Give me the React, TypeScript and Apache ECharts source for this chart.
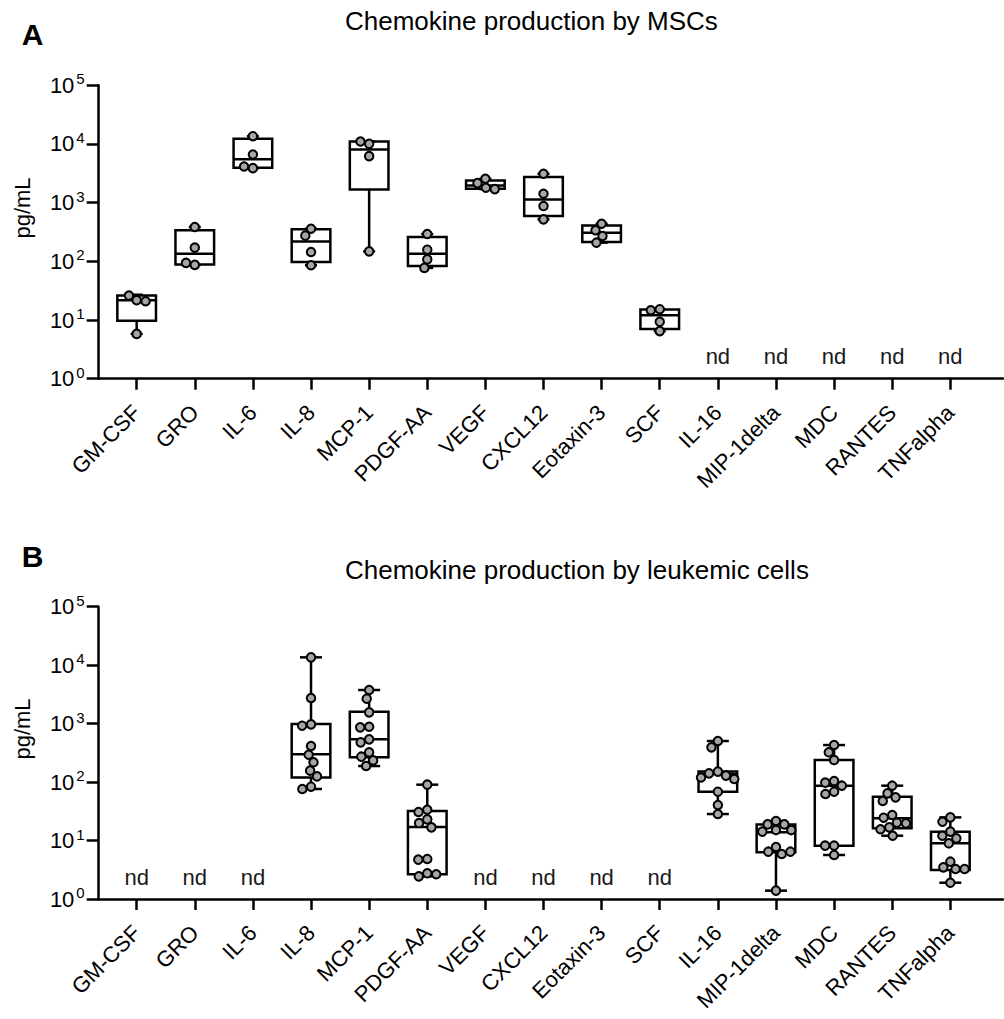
import React, { useEffect, useRef } from 'react';
import * as echarts from 'echarts';

const FONT = '"Liberation Sans", Arial, Helvetica, sans-serif';

const categories = ['GM-CSF', 'GRO', 'IL-6', 'IL-8', 'MCP-1', 'PDGF-AA', 'VEGF', 'CXCL12', 'Eotaxin-3', 'SCF', 'IL-16', 'MIP-1delta', 'MDC', 'RANTES', 'TNFalpha'];
const yMin = 1;
const yMax = 100000;

const titleA = 'Chemokine production by MSCs';
const titleB = 'Chemokine production by leukemic cells';
const yAxisName = 'pg/mL';
const ndText = 'nd';

// Box statistics [min, Q1, median, Q3, max]; null = not detected (nd)
const mscBoxes: (number[] | null)[] = [
  [5.8, 9.7, 21.8, 26.1, 27],
  [87, 88.5, 135, 338, 385],
  [3875, 3940, 5510, 12220, 13580],
  [85.8, 97.7, 217, 351, 360],
  [148, 1682, 8050, 11020, 11020],
  [77.3, 83.5, 135, 260, 292],
  [1703, 1726, 1966, 2393, 2554],
  [519, 592, 1137, 2725, 3105],
  [208, 214, 308, 410, 438],
  [6.47, 7.0, 12.1, 15.1, 15.3],
  null, null, null, null, null,
];

const mscPoints: number[][] = [
  [21.8, 20.9, 26.1, 5.8],
  [385, 171, 87, 94],
  [13580, 6620, 3875, 4140],
  [360, 274, 144.5, 85.8],
  [10050, 11020, 6205, 148],
  [292, 158, 108, 77.3],
  [2554, 2154, 1795, 1703],
  [3105, 1419, 875, 519],
  [438, 338, 270, 208],
  [15.3, 14.7, 9.32, 6.47],
  [], [], [], [], [],
];

const leukBoxes: (number[] | null)[] = [
  null, null, null,
  [76.1, 120, 298, 984, 13600],
  [188, 265, 538, 1600, 3756],
  [2.44, 2.64, 17.0, 32, 90.3],
  null, null, null, null,
  [28.4, 68.5, 137, 151, 504],
  [1.39, 6.3, 13.8, 18.9, 21.6],
  [5.66, 8.17, 86.8, 238, 430],
  [12.1, 16.2, 24.0, 56.2, 86.8],
  [1.9, 3.13, 8.96, 14.2, 24.9],
];

const leukPoints: number[][] = [
  [], [], [],
  [13600, 2740, 971, 922, 414, 294, 218, 157, 125, 83.4, 76.1],
  [3756, 2670, 1559, 886, 863, 538, 478, 323, 272, 235, 188],
  [90.3, 33.7, 30.8, 23.0, 19.9, 16.8, 4.83, 4.71, 2.75, 2.44, 2.65],
  [], [], [], [],
  [504, 393, 151, 141, 129, 120, 113, 68.5, 40.5, 28.4],
  [21.6, 18.9, 18.9, 15.1, 14.2, 15.1, 7.75, 6.45, 5.89, 6.45, 1.39],
  [430, 323, 238, 104, 97.7, 86.8, 68.5, 62.5, 8.17, 8.17, 5.66],
  [86.8, 64.2, 54.8, 47.5, 27.3, 24.6, 20.2, 19.7, 16.8, 15.6, 12.1],
  [24.9, 21.0, 14.2, 12.1, 10.9, 8.96, 4.35, 3.48, 3.26, 3.26, 1.9],
];

const LW = 2.5;

function boxRenderer(capWidth: number) {
  return (params: any, api: any) => {
    const idx = api.value(0);
    const vMin = api.value(1), q1 = api.value(2), med = api.value(3), q3 = api.value(4), vMax = api.value(5);
    const bandW = params.coordSys.width / categories.length;
    const bw = bandW * 0.665;
    const cx = api.coord([idx, med])[0];
    const y = (v: number) => api.coord([idx, v])[1];
    const yMinP = y(vMin), yQ1 = y(q1), yMed = y(med), yQ3 = y(q3), yMaxP = y(vMax);
    const ls = { stroke: '#000', lineWidth: LW, fill: 'none' };
    const line = (x1: number, y1: number, x2: number, y2: number) => ({ type: 'line', shape: { x1, y1, x2, y2 }, style: ls });
    return {
      type: 'group',
      children: [
        line(cx, yQ3, cx, yMaxP),
        line(cx, yQ1, cx, yMinP),
        line(cx - capWidth / 2, yMaxP, cx + capWidth / 2, yMaxP),
        line(cx - capWidth / 2, yMinP, cx + capWidth / 2, yMinP),
        { type: 'rect', shape: { x: cx - bw / 2, y: yQ3, width: bw, height: yQ1 - yQ3 }, style: { fill: '#fff', stroke: '#000', lineWidth: LW } },
        line(cx - bw / 2, yMed, cx + bw / 2, yMed),
      ],
    };
  };
}

function ndRenderer(params: any, api: any) {
  const p = api.coord([api.value(0), yMin]);
  return {
    type: 'text',
    x: p[0],
    y: p[1] - 22,
    style: { text: ndText, fontSize: 22, fontFamily: FONT, fill: '#1a1a1a', align: 'center', verticalAlign: 'middle' },
  };
}

function panel(boxes: (number[] | null)[], points: number[][], gridData: number, capWidth: number) {
  const boxData = boxes.map((b, i) => (b ? [i, ...b] : null)).filter((d) => d) as number[][];
  const ndData = boxes.map((b, i) => (b ? null : [i])).filter((d) => d) as number[][];
  const ptData: number[][] = [];
  points.forEach((arr, i) => arr.forEach((v) => ptData.push([i, v])));
  return [
    {
      type: 'custom', xAxisIndex: gridData, yAxisIndex: gridData, data: boxData,
      encode: { x: 0, y: [1, 2, 3, 4, 5] }, renderItem: boxRenderer(capWidth), z: 3, silent: true,
    },
    {
      type: 'custom', xAxisIndex: gridData, yAxisIndex: gridData, data: ndData,
      encode: { x: 0 }, renderItem: ndRenderer, z: 3, silent: true,
    },
    {
      type: 'scatter', xAxisIndex: gridData, yAxisIndex: gridData, data: ptData,
      symbol: 'circle', symbolSize: 8.5,
      itemStyle: { color: '#a6a6a6', borderColor: '#000', borderWidth: 2, opacity: 1 },
      z: 5, silent: true,
    },
  ];
}

const frameX = (gi: number) => ({
  type: 'value', gridIndex: gi, min: 0, max: 1,
  axisLine: { show: true, onZero: false, lineStyle: { color: '#000', width: LW } },
  axisTick: { show: false }, axisLabel: { show: false }, splitLine: { show: false },
});

const frameY = (gi: number) => ({
  type: 'log', gridIndex: gi, logBase: 10, min: yMin, max: yMax, splitNumber: 5,
  axisLine: { show: true, lineStyle: { color: '#000', width: LW } },
  axisTick: { show: true, length: 12, lineStyle: { color: '#000', width: LW } },
  splitLine: { show: false },
  axisLabel: {
    margin: 14,
    formatter: (v: number) => `{b|10}{s|${Math.round(Math.log10(v))}}`,
    rich: {
      b: { fontSize: 22, fontFamily: FONT, color: '#000' },
      s: { fontSize: 15, fontFamily: FONT, color: '#000', padding: [0, 0, 13, 2] },
    },
  },
});

const dataX = (gi: number) => ({
  type: 'category', gridIndex: gi, data: categories, boundaryGap: true,
  jitter: 36, jitterOverlap: false, jitterMargin: 0.5,
  axisLine: { show: false },
  axisTick: { show: true, alignWithLabel: true, length: 11, lineStyle: { color: '#000', width: LW } },
  axisLabel: { interval: 0, rotate: 45, margin: 30, fontSize: 22, fontFamily: FONT, color: '#000' },
  splitLine: { show: false },
});

const dataY = (gi: number) => ({
  type: 'log', gridIndex: gi, logBase: 10, min: yMin, max: yMax, show: false,
  splitLine: { show: false },
});

export default function App() {
  const ref = useRef<HTMLDivElement>(null);
  useEffect(() => {
    if (!ref.current) return;
    const chart = echarts.init(ref.current, null, { renderer: 'svg' });
    const option: any = {
      animation: false,
      backgroundColor: '#fff',
      textStyle: { fontFamily: FONT },
      grid: [
        { left: 98.7, right: 1, top: 85.3, bottom: 640.3 },
        { left: 107.6, right: 24.6, top: 85.3, bottom: 640.3 },
        { left: 98.7, right: 1, top: 606.7, bottom: 120 },
        { left: 107.6, right: 24.6, top: 606.7, bottom: 120 },
      ],
      xAxis: [frameX(0), dataX(1), frameX(2), dataX(3)],
      yAxis: [frameY(0), dataY(1), frameY(2), dataY(3)],
      series: [
        ...panel(mscBoxes, mscPoints, 1, 12),
        ...panel(leukBoxes, leukPoints, 3, 22),
      ],
      graphic: [
        { type: 'text', x: 32.5, y: 34, style: { text: 'A', fontSize: 30, fontWeight: 'bold', fontFamily: FONT, fill: '#000', align: 'center', verticalAlign: 'middle' } },
        { type: 'text', x: 32.5, y: 556, style: { text: 'B', fontSize: 30, fontWeight: 'bold', fontFamily: FONT, fill: '#000', align: 'center', verticalAlign: 'middle' } },
        { type: 'text', x: 345, y: 20.5, style: { text: titleA, fontSize: 26, fontFamily: FONT, fill: '#000', align: 'left', verticalAlign: 'middle' } },
        { type: 'text', x: 345, y: 570, style: { text: titleB, fontSize: 26, fontFamily: FONT, fill: '#000', align: 'left', verticalAlign: 'middle' } },
        { type: 'text', x: 22.5, y: 208, rotation: Math.PI / 2, style: { text: yAxisName, fontSize: 22, fontFamily: FONT, fill: '#000', align: 'center', verticalAlign: 'middle' } },
        { type: 'text', x: 22.5, y: 729, rotation: Math.PI / 2, style: { text: yAxisName, fontSize: 22, fontFamily: FONT, fill: '#000', align: 'center', verticalAlign: 'middle' } },
      ],
    };
    chart.setOption(option);
    return () => chart.dispose();
  }, []);
  return <div ref={ref} style={{ position: 'absolute', left: 0, top: 0, width: 1004, height: 1019 }} />;
}
